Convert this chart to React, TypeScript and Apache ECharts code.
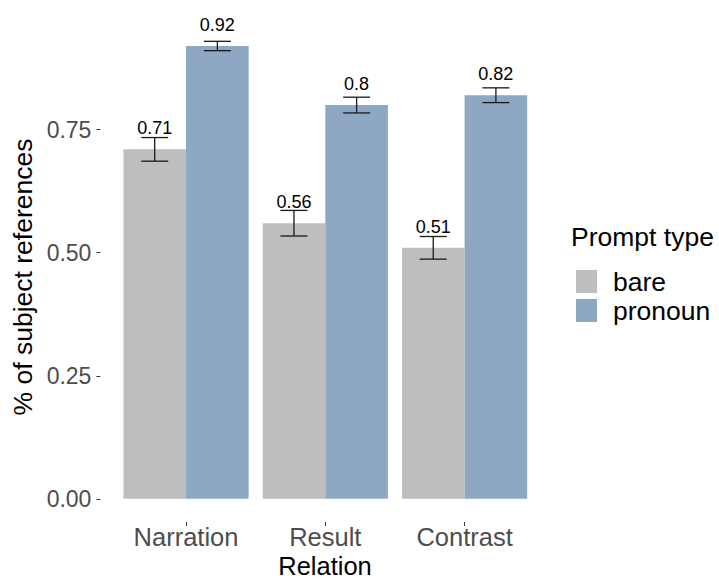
import React, { useEffect, useRef } from "react";
import * as echarts from "echarts";

// Share of subject references by discourse relation and prompt type
const categories = ["Narration", "Result", "Contrast"];
const seriesNames = ["bare", "pronoun"];
const bareMeans = [0.71, 0.56, 0.51];
const pronounMeans = [0.92, 0.8, 0.82];
const bareSE = [0.024, 0.026, 0.023];
const pronounSE = [0.0095, 0.016, 0.015];
const yTicks = [0, 0.25, 0.5, 0.75];

const FONT = "'Liberation Sans', Arial, Helvetica, sans-serif";
const GREY = "#bebebe";
const BLUE = "#8ea8c3";

// Error bar drawn centred on the dodged bar of one series
const makeErrorSeries = (means: number[], se: number[], side: number) => ({
  type: "custom",
  z: 5,
  encode: { x: 0, y: [1, 2] },
  data: means.map((m, i) => [i, m - se[i], m + se[i]]),
  renderItem: (_params: any, api: any) => {
    const idx = api.value(0);
    const lo = api.value(1);
    const hi = api.value(2);
    const band = api.size([1, 0])[0];
    const cx = api.coord([idx, 0])[0] + side * band * 0.225;
    const yLo = api.coord([idx, lo])[1];
    const yHi = api.coord([idx, hi])[1];
    const hw = band * 0.097;
    const style = { stroke: "#1a1a1a", lineWidth: 1.3 };
    return {
      type: "group",
      children: [
        { type: "line", shape: { x1: cx, y1: yLo, x2: cx, y2: yHi }, style },
        { type: "line", shape: { x1: cx - hw, y1: yHi, x2: cx + hw, y2: yHi }, style },
        { type: "line", shape: { x1: cx - hw, y1: yLo, x2: cx + hw, y2: yLo }, style },
      ],
    };
  },
});

const barSeries = (name: string, values: number[], color: string) => ({
  name,
  type: "bar",
  data: values,
  barWidth: 62.6,
  barGap: "0%",
  itemStyle: { color },
  label: {
    show: true,
    position: "top",
    distance: 12,
    fontFamily: FONT,
    fontSize: 18,
    color: "#000",
    formatter: (p: any) => String(p.value),
  },
});

export default function App() {
  const ref = useRef<HTMLDivElement>(null);

  useEffect(() => {
    if (!ref.current) return;
    const chart = echarts.init(ref.current, undefined, { renderer: "svg" });
    chart.setOption({
      animation: false,
      backgroundColor: "#fff",
      textStyle: { fontFamily: FONT },
      grid: { left: 116.4, top: 14, width: 417.8, height: 508 },
      xAxis: {
        type: "category",
        data: categories,
        axisLine: { show: false, onZero: false },
        axisTick: { show: true, alignWithLabel: true, length: 4, lineStyle: { color: "#333" } },
        axisLabel: {
          interval: 0,
          hideOverlap: false,
          fontFamily: FONT,
          fontSize: 25.5,
          lineHeight: 24,
          color: "#4d4d4d",
          margin: 3,
        },
        splitLine: { show: false },
      },
      yAxis: {
        type: "value",
        min: -0.047,
        max: 0.985,
        offset: 16,
        axisLine: { show: false },
        splitLine: { show: false },
        axisTick: { show: true, length: 4, lineStyle: { color: "#333" }, customValues: yTicks },
        axisLabel: {
          customValues: yTicks,
          fontFamily: FONT,
          fontSize: 23,
          color: "#4d4d4d",
          margin: 9,
          formatter: (v: number) => v.toFixed(2),
        },
      },
      legend: {
        orient: "vertical",
        left: 571,
        top: 263,
        itemWidth: 21,
        itemHeight: 23,
        itemGap: 2,
        icon: "rect",
        data: seriesNames,
        selectedMode: false,
        textStyle: {
          fontFamily: FONT,
          fontSize: 26.5,
          color: "#000",
          lineHeight: 23,
          padding: [0, 0, 0, 11],
        },
      },
      graphic: [
        {
          type: "text",
          x: 22.5,
          y: 277,
          rotation: Math.PI / 2,
          style: {
            text: "% of subject references",
            fontFamily: FONT,
            fontSize: 26.5,
            fill: "#000",
            align: "center",
            verticalAlign: "middle",
          },
        },
        {
          type: "text",
          x: 325,
          y: 566,
          style: {
            text: "Relation",
            fontFamily: FONT,
            fontSize: 25.5,
            lineHeight: 24,
            fill: "#000",
            align: "center",
            verticalAlign: "middle",
          },
        },
        {
          type: "text",
          x: 571,
          y: 237,
          style: {
            text: "Prompt type",
            fontFamily: FONT,
            fontSize: 26.5,
            fill: "#000",
            align: "left",
            verticalAlign: "middle",
          },
        },
      ],
      series: [
        barSeries(seriesNames[0], bareMeans, GREY),
        barSeries(seriesNames[1], pronounMeans, BLUE),
        makeErrorSeries(bareMeans, bareSE, -1),
        makeErrorSeries(pronounMeans, pronounSE, 1),
      ],
    });
    return () => chart.dispose();
  }, []);

  return (
    <div
      ref={ref}
      style={{ position: "fixed", left: 0, top: 0, width: 719, height: 580, background: "#fff" }}
    />
  );
}
